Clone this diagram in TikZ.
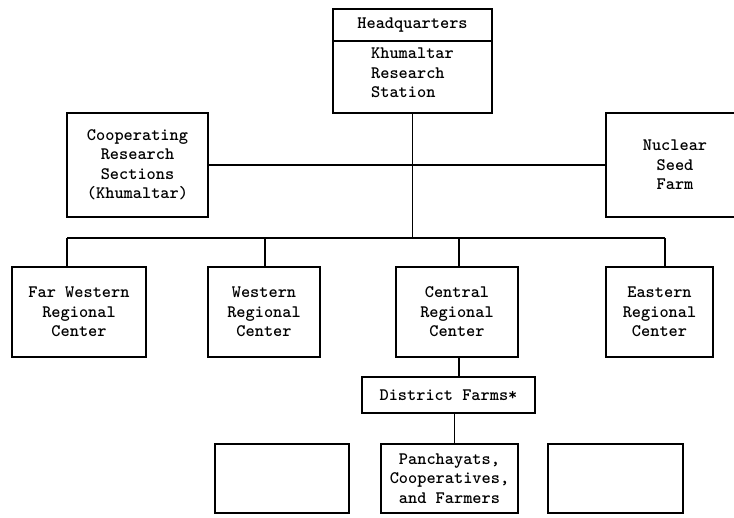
\documentclass[tikz,border=0pt]{standalone}
\begin{document}
\begin{tikzpicture}[x=1pt, y=-1pt, line width=1.3pt,
		unit/.style={draw, rectangle, inner sep=0pt, align=center,
			font=\ttfamily\bfseries\fontsize{17.5}{19.5}\selectfont},
		top row/.style={unit, minimum height=104},
		region/.style={unit, minimum height=90},
		bottom row/.style={unit, minimum height=69}
		]
	\useasboundingbox (0,0) rectangle (734,518);
	% headquarters
	\node [unit, minimum width=159, minimum height=32] (hq) at (412.5,25) {Headquarters};
	\node [unit, minimum width=159, minimum height=72, align=left] (khum) at (412.5,77) {Khumaltar\\Research\\Station\vspace{8pt}};
	\node [top row, minimum width=141] (coop) at (137.5,165) {Cooperating\\Research\\Sections\\(Khumaltar)};
	\node [top row, minimum width=138] (nuclear) at (675,165) {Nuclear\\Seed\\Farm};
	% regional centers
	\node [region, minimum width=134] (farwest) at (79,312) {Far Western\\Regional\\Center};
	\node [region, minimum width=112] (western) at (264,312) {Western\\Regional\\Center};
	\node [region, minimum width=122] (central) at (457,312) {Central\\Regional\\Center};
	\node [region, minimum width=107] (eastern) at (659.5,312) {Eastern\\Regional\\Center};
	% below central
	\node [unit, minimum width=173, minimum height=36] (district) at (448.5,395) {District Farms*};
	\node [bottom row, minimum width=134] (blankL) at (282,478.5) {};
	\node [bottom row, minimum width=137] (panch) at (449.5,478.5) {Panchayats,\\Cooperatives,\\and Farmers};
	\node [bottom row, minimum width=135] (blankR) at (615.5,478.5) {};

	\coordinate (bus) at (411,238);
	\draw (coop.east) -- (nuclear.west);
	\draw (khum.south) -- (khum.south |- bus);
	\draw ([xshift=-12]farwest.north |- bus) -- ([xshift=5.5]eastern.north |- bus);
	\foreach \n/\dx in {farwest/-12, western/1, central/2, eastern/5.5}
		\draw ([xshift=\dx]\n.north) -- ([xshift=\dx]\n.north |- bus);
	\draw ([xshift=2]central.south) -- ([xshift=2]central.south |- district.north);
	\draw ([xshift=6]district.south) -- ([xshift=6]district.south |- panch.north);
\end{tikzpicture}
\end{document}
